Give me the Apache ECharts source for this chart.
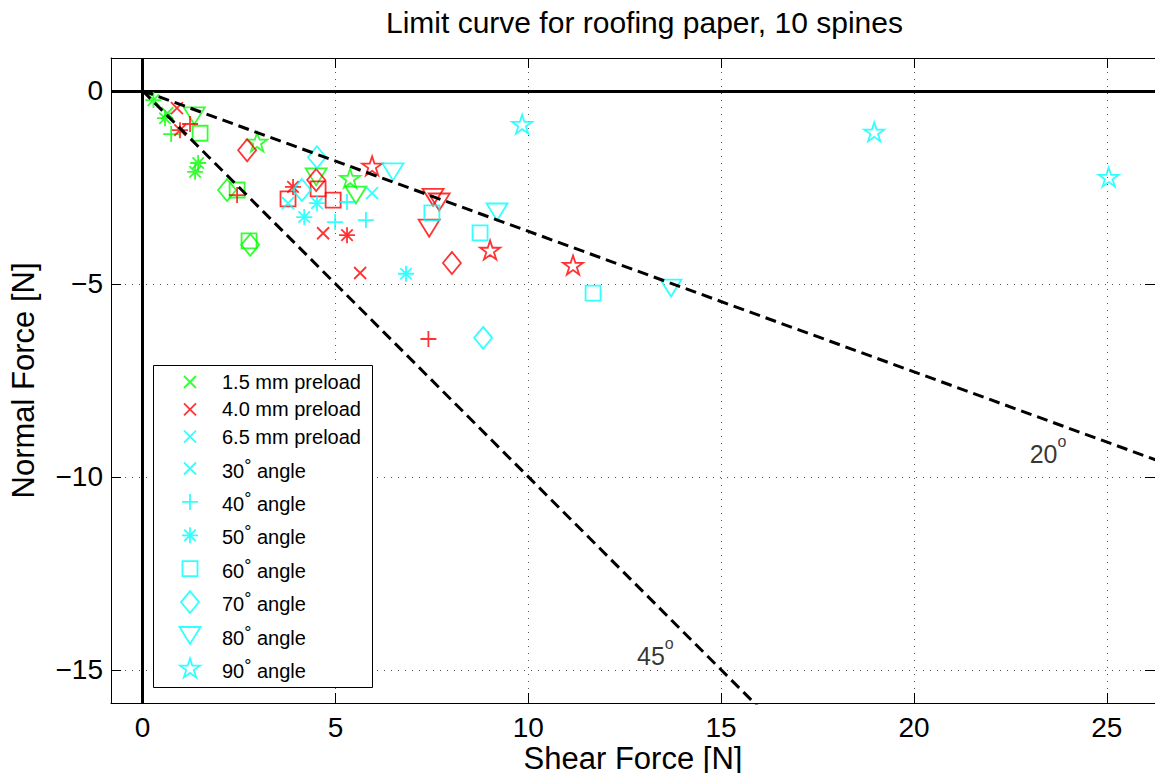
<!DOCTYPE html>
<html>
<head>
<meta charset="utf-8">
<script src="https://cdn.jsdelivr.net/npm/echarts@6/dist/echarts.min.js"></script>
<style>
  html, body { margin: 0; padding: 0; background: #fff; }
  #chart { width: 1155px; height: 773px; }
</style>
</head>
<body>
<div id="chart"></div>
<script>
// Measured limit points, one row per trial: [spine angle (deg), shear force (N), normal force (N)]
const preload15 = [
  [30, 0.64, -0.58],
  [40, 0.74, -1.12],
  [50, 0.28, -0.24], [50, 0.58, -0.71], [50, 1.44, -1.87], [50, 1.36, -2.10],
  [60, 1.49, -1.10], [60, 2.45, -2.57], [60, 2.76, -3.89],
  [70, 2.19, -2.57], [70, 2.79, -3.99],
  [80, 1.34, -0.65], [80, 4.50, -2.23], [80, 5.53, -2.70],
  [90, 2.97, -1.35], [90, 5.38, -2.29]
];
const preload40 = [
  [30, 0.89, -0.45], [30, 4.68, -3.69], [30, 5.64, -4.72],
  [40, 1.23, -0.86], [40, 2.45, -2.70], [40, 7.41, -6.43],
  [50, 0.97, -1.02], [50, 3.90, -2.49], [50, 5.30, -3.74],
  [60, 3.77, -2.80], [60, 4.94, -2.83], [60, 4.55, -2.54],
  [70, 2.71, -1.54], [70, 4.50, -2.31], [70, 8.02, -4.46],
  [80, 7.53, -2.76], [80, 7.69, -2.88], [80, 7.43, -3.56],
  [90, 5.95, -1.97], [90, 9.01, -4.15], [90, 11.16, -4.54]
];
const preload65 = [
  [30, 3.77, -2.91], [30, 5.95, -2.65],
  [40, 5.30, -2.88], [40, 4.99, -3.40], [40, 5.79, -3.35],
  [50, 4.19, -3.27], [50, 4.52, -2.91], [50, 6.83, -4.74],
  [60, 7.50, -3.16], [60, 8.75, -3.68], [60, 11.68, -5.24],
  [70, 4.52, -1.72], [70, 4.13, -2.57], [70, 8.83, -6.40],
  [80, 6.49, -2.10], [80, 9.19, -3.14], [80, 13.70, -5.11],
  [90, 9.84, -0.89], [90, 18.97, -1.09], [90, 25.05, -2.26]
];

const preloadLabels = ['1.5 mm preload', '4.0 mm preload', '6.5 mm preload'];
const angleValues = [30, 40, 50, 60, 70, 80, 90];
const xTicks = [0, 5, 10, 15, 20, 25];
const yTicks = [-15, -10, -5, 0];
const xRange = [-0.82, 26.25];
const yRange = [-15.86, 0.85];

// Friction-cone lines through the origin and their captions [shear, normal, text]
const coneAngles = [20, 45];
const coneLabels = [[23.0, -9.30, '20'], [12.82, -14.53, '45']];

// ---- styling ----
const FONT = '"Liberation Sans", Arial, Helvetica, sans-serif';
const preloadColors = ['#00ff00', '#ff0000', '#00ffff'];
const STROKE = 1.8;
// every marker is drawn in a 24x24 frame so the symbol size is 1:1 in pixels
const FRAME = 'M0,0M24,24';
const markerPaths = {
  30: 'M6,6L18,18M18,6L6,18',
  40: 'M12,4L12,20M4,12L20,12',
  50: 'M12,4L12,20M4,12L20,12M6.3,6.3L17.7,17.7M17.7,6.3L6.3,17.7',
  60: 'M4.5,4.5L19.5,4.5L19.5,19.5L4.5,19.5Z',
  70: 'M12,1L21,12L12,23L3,12Z',
  80: 'M1.5,3.5L22.5,3.5L12,20.5Z',
  90: 'M12,1.5L14.35,8.76L21.99,8.76L15.8,13.24L18.17,20.49L12,16L5.83,20.49L8.2,13.24L2.01,8.76L9.65,8.76Z'
};
const symbolFor = a => 'path://' + FRAME + markerPaths[a];

const minus = v => (v < 0 ? '\u2212' + Math.abs(v) : String(v));

const series = [];

// thick zero axes
series.push({
  type: 'line', name: 'axes', data: [], silent: true,
  markLine: {
    silent: true, symbol: 'none', z: 1, animation: false,
    label: { show: false },
    lineStyle: { color: '#000', width: 3, type: 'solid' },
    emphasis: { disabled: true },
    data: [{ xAxis: 0 }, { yAxis: 0 }]
  }
});

// measured points: one series per preload and angle
[preload15, preload40, preload65].forEach((rows, p) => {
  angleValues.forEach(a => {
    const pts = rows.filter(r => r[0] === a).map(r => [r[1], r[2]]);
    if (!pts.length) return;
    series.push({
      type: 'scatter', name: preloadLabels[p] + ', ' + a + '\u00b0', data: pts,
      symbol: symbolFor(a), symbolSize: 24, z: 3, silent: true,
      itemStyle: { color: 'none', borderColor: preloadColors[p], borderWidth: STROKE }
    });
  });
});

// legend keys: preload colours and angle markers
preloadLabels.forEach((name, p) => series.push({
  type: 'scatter', name, data: [], symbol: symbolFor(30), symbolSize: 24,
  itemStyle: { color: 'none', borderColor: preloadColors[p], borderWidth: STROKE }
}));
angleValues.forEach(a => series.push({
  type: 'scatter', name: a + '\u00b0 angle', data: [], symbol: symbolFor(a), symbolSize: 24,
  itemStyle: { color: 'none', borderColor: '#00ffff', borderWidth: STROKE }
}));

// dashed cone lines
coneAngles.forEach(deg => {
  const t = Math.tan(deg * Math.PI / 180);
  const xEnd = 40;
  series.push({
    type: 'line', name: deg + '\u00b0 cone', data: [[0, 0], [xEnd, -xEnd * t]],
    symbol: 'none', silent: true, z: 4, clip: true,
    lineStyle: { color: '#000', width: 3, type: [11, 6] }
  });
});

// cone captions with superscript o
series.push({
  type: 'scatter', name: 'cone labels', data: coneLabels, symbolSize: 1, silent: true, z: 5,
  itemStyle: { color: 'rgba(0,0,0,0)' },
  label: {
    show: true, position: 'inside', align: 'left', verticalAlign: 'middle',
    formatter: p => '{n|' + p.value[2] + '}{o|o}',
    rich: {
      n: { fontSize: 25, color: '#000', fontFamily: FONT, verticalAlign: 'bottom' },
      o: { fontSize: 16, color: '#000', fontFamily: FONT, verticalAlign: 'top', padding: [0, 0, 17, 0] }
    }
  }
});

const tickText = { fontSize: 28, color: '#000', fontFamily: FONT };
const nameText = { fontSize: 31, color: '#000', fontFamily: FONT };
const frameLine = { show: true, onZero: false, lineStyle: { color: '#000', width: 1 } };

const option = {
  animation: false,
  backgroundColor: '#fff',
  title: {
    text: 'Limit curve for roofing paper, 10 spines',
    left: 386, top: 7, padding: 0,
    textStyle: { fontSize: 30, fontWeight: 'normal', color: '#000', fontFamily: FONT }
  },
  grid: { left: 111, right: 0, top: 58, bottom: 70, containLabel: false, outerBoundsMode: 'none' },
  xAxis: [
    {
      type: 'value', position: 'bottom', min: xRange[0], max: xRange[1],
      axisLine: frameLine,
      axisTick: { show: true, inside: true, length: 10, customValues: xTicks, lineStyle: { color: '#000' } },
      axisLabel: { customValues: xTicks, margin: 10, ...tickText },
      splitLine: { show: true, lineStyle: { color: '#555', width: 1, type: [1, 6] } },
      name: 'Shear Force [N]', nameLocation: 'middle', nameGap: 40, nameMoveOverlap: false,
      nameTextStyle: nameText
    },
    {
      type: 'value', position: 'top', min: xRange[0], max: xRange[1],
      axisLine: frameLine,
      axisTick: { show: true, inside: true, length: 10, customValues: xTicks, lineStyle: { color: '#000' } },
      axisLabel: { show: false }, splitLine: { show: false }
    }
  ],
  yAxis: [
    {
      type: 'value', position: 'left', min: yRange[0], max: yRange[1],
      axisLine: frameLine,
      axisTick: { show: true, inside: true, length: 10, customValues: yTicks, lineStyle: { color: '#000' } },
      axisLabel: { customValues: yTicks, margin: 8, formatter: minus, ...tickText },
      splitLine: { show: true, lineStyle: { color: '#555', width: 1, type: [1, 6] } },
      name: 'Normal Force [N]', nameLocation: 'middle', nameGap: 72, nameMoveOverlap: false,
      nameTextStyle: nameText
    },
    {
      type: 'value', position: 'right', min: yRange[0], max: yRange[1],
      axisLine: frameLine,
      axisTick: { show: true, inside: true, length: 10, customValues: yTicks, lineStyle: { color: '#000' } },
      axisLabel: { show: false }, splitLine: { show: false }
    }
  ],
  legend: [
    {
      data: preloadLabels, orient: 'vertical', left: 175.5, top: 367.5, padding: 0,
      itemWidth: 54, itemHeight: 24, itemGap: -1.7, selectedMode: false, z: 12,
      itemStyle: { borderWidth: STROKE },
      textStyle: { fontSize: 20, color: '#000', fontFamily: FONT }
    },
    {
      data: angleValues.map(a => a + '\u00b0 angle'), orient: 'vertical', left: 175.5, top: 454, padding: 0,
      itemWidth: 54, itemHeight: 24, itemGap: 4.4, selectedMode: false, z: 12,
      itemStyle: { borderWidth: STROKE },
      formatter: name => {
        const m = name.match(/^(\d+)\u00b0 (.+)$/);
        return '{a|' + m[1] + '}{s|\u00b0}{a| ' + m[2] + '}';
      },
      textStyle: {
        fontSize: 20, color: '#000', fontFamily: FONT,
        rich: {
          a: { fontSize: 20, color: '#000', fontFamily: FONT, verticalAlign: 'bottom' },
          s: { fontSize: 18, color: '#000', fontFamily: FONT, verticalAlign: 'top', padding: [0, 0, 6, 0] }
        }
      }
    }
  ],
  graphic: [
    {
      type: 'rect', z: 11, silent: true,
      shape: { x: 153.5, y: 365.5, width: 219, height: 322 },
      style: { fill: '#fff', stroke: '#000', lineWidth: 1 }
    }
  ],
  series
};

const chart = echarts.init(document.getElementById('chart'), null, { renderer: 'svg' });
chart.setOption(option);
</script>
</body>
</html>
